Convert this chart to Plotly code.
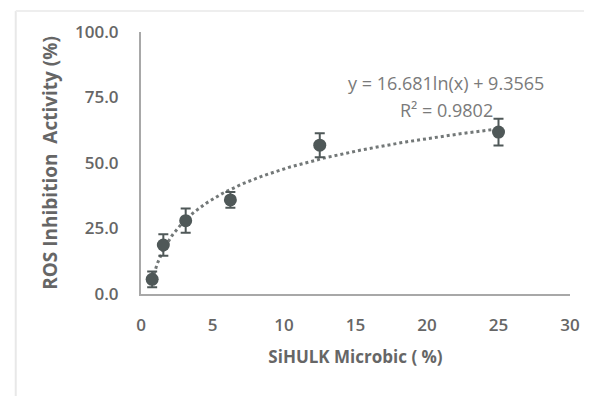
import numpy as np
import plotly.graph_objects as go

# Data
concentration = [0.78125, 1.5625, 3.125, 6.25, 12.5, 25]
inhibition = [5.6, 18.7, 28.0, 35.9, 56.8, 61.8]
error = [3.0, 4.1, 4.6, 3.0, 4.6, 5.1]

# Logarithmic trendline coefficients (as shown on chart)
slope = 16.681
intercept = 9.3565
r_squared = 0.9802

x_ticks = [0, 5, 10, 15, 20, 25, 30]
y_ticks = [0, 25, 50, 75, 100]

trend_x = np.linspace(min(concentration), max(concentration), 300)
trend_y = slope * np.log(trend_x) + intercept

dark = "#4f5858"
text_gray = "#666666"
font_family = "Open Sans, Noto Sans, sans-serif"

fig = go.Figure()
fig.add_trace(go.Scatter(
    x=trend_x, y=trend_y, mode="lines",
    line=dict(color="#737878", width=3, dash="dot"),
    hoverinfo="skip", showlegend=False,
))
fig.add_trace(go.Scatter(
    x=concentration, y=inhibition, mode="markers",
    marker=dict(color=dark, size=13),
    error_y=dict(type="data", array=error, visible=True, color=dark,
                 thickness=2, width=5),
    showlegend=False,
))

fig.add_annotation(
    x=0.711, y=0.805, xref="paper", yref="paper",
    xanchor="center", yanchor="middle",
    text=f"y = {slope}ln(x) + {intercept}",
    showarrow=False, align="center",
    font=dict(family=font_family, size=18, color="#7a7a7a"),
)
fig.add_annotation(
    x=0.711, y=0.702, xref="paper", yref="paper",
    xanchor="center", yanchor="middle",
    text=f"R² = {r_squared}",
    showarrow=False, align="center",
    font=dict(family=font_family, size=18, color="#7a7a7a"),
)

fig.update_layout(
    width=592, height=396,
    margin=dict(l=133, r=30, t=24, b=110),
    paper_bgcolor="white", plot_bgcolor="white",
    font=dict(family=font_family, color=text_gray),
    xaxis=dict(
        range=[0, 30], tickvals=x_ticks, ticktext=[str(v) for v in x_ticks],
        showgrid=False, zeroline=False, showline=True, linecolor="#a8a8a8",
        linewidth=2, ticks="outside", ticklen=15, tickcolor="rgba(0,0,0,0)",
        tickfont=dict(size=17, color=text_gray, weight=600),
        title=dict(text="SiHULK Microbic ( %)", standoff=16,
                   font=dict(size=17, color=text_gray, weight=700)),
    ),
    yaxis=dict(
        range=[0, 100], tickvals=y_ticks, ticktext=[f"{v:.1f}" for v in y_ticks],
        showgrid=False, zeroline=False, showline=True, linecolor="#a8a8a8",
        linewidth=2, ticks="outside", ticklen=17, tickcolor="rgba(0,0,0,0)",
        tickfont=dict(size=17, color=text_gray, weight=600),
        title=dict(text="ROS Inhibition  Activity (%)", standoff=12,
                   font=dict(size=19, color=text_gray, weight=700)),
    ),
    shapes=[
        dict(type="line", xref="paper", yref="paper",
             x0=-0.292, x1=-0.292, y0=-0.42, y1=1.08,
             line=dict(color="#e8e8e8", width=2)),
        dict(type="line", xref="paper", yref="paper",
             x0=-0.292, x1=1.1, y0=1.08, y1=1.08,
             line=dict(color="#eeeeee", width=2)),
    ],
)

fig.write_html("out.html")
